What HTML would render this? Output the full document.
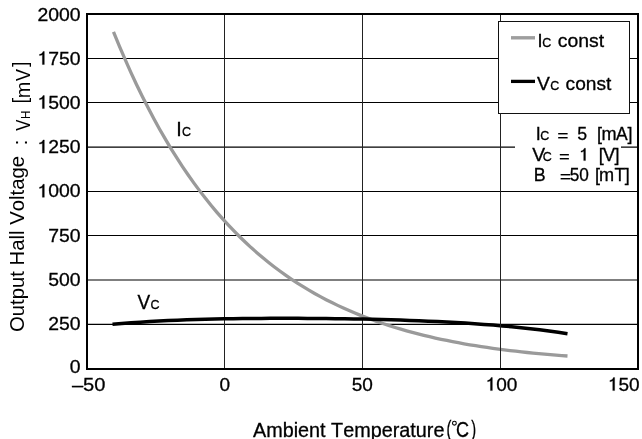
<!DOCTYPE html>
<html><head><meta charset="utf-8"><style>
html,body{margin:0;padding:0;background:#fff;width:642px;height:439px;overflow:hidden}
svg{display:block;will-change:transform}
text{font-family:"Liberation Sans",sans-serif;font-kerning:none;font-feature-settings:"kern" 0;fill:#000;stroke:#000;stroke-width:0.3px}
</style></head><body>
<svg width="642" height="439" viewBox="0 0 642 439">
<rect width="642" height="439" fill="#fff"/>
<g stroke="#000" stroke-width="1.05" fill="none"><line x1="88" y1="58.50" x2="637" y2="58.50"/><line x1="88" y1="102.50" x2="637" y2="102.50"/><line x1="88" y1="147.10" x2="637" y2="147.10"/><line x1="88" y1="191.45" x2="637" y2="191.45"/><line x1="88" y1="235.50" x2="637" y2="235.50"/><line x1="88" y1="279.90" x2="637" y2="279.90"/><line x1="88" y1="324.35" x2="637" y2="324.35"/></g><g stroke="#222" stroke-width="1" fill="none"><line x1="224.50" y1="15" x2="224.50" y2="368"/><line x1="362.50" y1="15" x2="362.50" y2="368"/><line x1="500.50" y1="15" x2="500.50" y2="368"/></g>
<polyline points="113.50,31.81 119.25,45.80 124.99,59.22 130.74,72.09 136.49,84.44 142.23,96.27 147.98,107.62 153.73,118.50 159.47,128.94 165.22,138.94 170.97,148.53 176.72,157.73 182.46,166.55 188.21,175.01 193.96,183.11 199.70,190.88 205.45,198.33 211.20,205.48 216.94,212.32 222.69,218.89 228.44,225.18 234.18,231.21 239.93,236.99 245.68,242.53 251.42,247.84 257.17,252.92 262.92,257.80 268.66,262.47 274.41,266.95 280.16,271.24 285.91,275.35 291.65,279.29 297.40,283.06 303.15,286.68 308.89,290.14 314.64,293.45 320.39,296.63 326.13,299.67 331.88,302.59 337.63,305.37 343.37,308.05 349.12,310.60 354.87,313.05 360.61,315.39 366.36,317.64 372.11,319.78 377.85,321.83 383.60,323.80 389.35,325.68 395.09,327.48 400.84,329.20 406.59,330.84 412.34,332.42 418.08,333.92 423.83,335.36 429.58,336.73 435.32,338.04 441.07,339.30 446.82,340.49 452.56,341.64 458.31,342.73 464.06,343.77 469.80,344.77 475.55,345.72 481.30,346.62 487.04,347.48 492.79,348.31 498.54,349.09 504.28,349.84 510.03,350.55 515.78,351.23 521.53,351.87 527.27,352.49 533.02,353.07 538.77,353.62 544.51,354.15 550.26,354.65 556.01,355.12 561.75,355.57 567.50,356.00" fill="none" stroke="#9a9a9a" stroke-width="3.3" stroke-linejoin="round"/>
<polyline points="112.50,324.26 121.79,323.49 131.07,322.79 140.36,322.15 149.64,321.58 158.93,321.07 168.21,320.62 177.50,320.22 186.79,319.86 196.07,319.55 205.36,319.28 214.64,319.05 223.93,318.85 233.21,318.69 242.50,318.56 251.79,318.46 261.07,318.38 270.36,318.34 279.64,318.31 288.93,318.31 298.21,318.33 307.50,318.38 316.79,318.44 326.07,318.53 335.36,318.64 344.64,318.77 353.93,318.93 363.21,319.10 372.50,319.31 381.79,319.54 391.07,319.79 400.36,320.08 409.64,320.40 418.93,320.75 428.21,321.13 437.50,321.56 446.79,322.02 456.07,322.54 465.36,323.10 474.64,323.71 483.93,324.38 493.21,325.10 502.50,325.90 511.79,326.76 521.07,327.69 530.36,328.71 539.64,329.80 548.93,330.99 558.21,332.27 567.50,333.66" fill="none" stroke="#000" stroke-width="3.5" stroke-linejoin="round"/>
<rect x="87" y="14" width="551" height="355" fill="none" stroke="#000" stroke-width="2"/>
<rect x="498.5" y="21.5" width="131" height="92" fill="#fff" stroke="#111" stroke-width="1"/>
<line x1="511" y1="37.8" x2="535" y2="37.8" stroke="#9e9e9e" stroke-width="3.4"/>
<line x1="511" y1="81.4" x2="535" y2="81.4" stroke="#000" stroke-width="3.3"/>
<rect x="515" y="120" width="106" height="65" fill="#fff"/>
<line x1="500.5" y1="113" x2="500.5" y2="368" stroke="#222" stroke-width="1"/>
<circle cx="454.4" cy="423.2" r="1.9" fill="none" stroke="#000" stroke-width="1.1"/>
<text transform="translate(37.44,20.60) scale(1.0200,1)" font-size="19.0">2000</text>
<path transform="translate(37.44,64.50) scale(19.380,-19.000)" d="M0.355 0L0.355 0.688L0.29 0.688C0.265 0.6 0.2 0.55 0.105 0.535L0.105 0.468C0.175 0.472 0.225 0.49 0.255 0.515L0.255 0Z" fill="#000" stroke="#000" stroke-width="0.0158"/>
<text transform="translate(48.22,64.50) scale(1.0200,1)" font-size="19.0">7</text>
<text transform="translate(59.00,64.50) scale(1.0200,1)" font-size="19.0">5</text>
<text transform="translate(69.78,64.50) scale(1.0200,1)" font-size="19.0">0</text>
<path transform="translate(37.44,108.60) scale(19.380,-19.000)" d="M0.355 0L0.355 0.688L0.29 0.688C0.265 0.6 0.2 0.55 0.105 0.535L0.105 0.468C0.175 0.472 0.225 0.49 0.255 0.515L0.255 0Z" fill="#000" stroke="#000" stroke-width="0.0158"/>
<text transform="translate(48.22,108.60) scale(1.0200,1)" font-size="19.0">5</text>
<text transform="translate(59.00,108.60) scale(1.0200,1)" font-size="19.0">0</text>
<text transform="translate(69.78,108.60) scale(1.0200,1)" font-size="19.0">0</text>
<path transform="translate(37.44,153.00) scale(19.380,-19.000)" d="M0.355 0L0.355 0.688L0.29 0.688C0.265 0.6 0.2 0.55 0.105 0.535L0.105 0.468C0.175 0.472 0.225 0.49 0.255 0.515L0.255 0Z" fill="#000" stroke="#000" stroke-width="0.0158"/>
<text transform="translate(48.22,153.00) scale(1.0200,1)" font-size="19.0">2</text>
<text transform="translate(59.00,153.00) scale(1.0200,1)" font-size="19.0">5</text>
<text transform="translate(69.78,153.00) scale(1.0200,1)" font-size="19.0">0</text>
<path transform="translate(37.44,197.30) scale(19.380,-19.000)" d="M0.355 0L0.355 0.688L0.29 0.688C0.265 0.6 0.2 0.55 0.105 0.535L0.105 0.468C0.175 0.472 0.225 0.49 0.255 0.515L0.255 0Z" fill="#000" stroke="#000" stroke-width="0.0158"/>
<text transform="translate(48.22,197.30) scale(1.0200,1)" font-size="19.0">0</text>
<text transform="translate(59.00,197.30) scale(1.0200,1)" font-size="19.0">0</text>
<text transform="translate(69.78,197.30) scale(1.0200,1)" font-size="19.0">0</text>
<text transform="translate(48.22,241.60) scale(1.0200,1)" font-size="19.0">750</text>
<text transform="translate(48.22,285.60) scale(1.0200,1)" font-size="19.0">500</text>
<text transform="translate(48.22,329.80) scale(1.0200,1)" font-size="19.0">250</text>
<text transform="translate(69.78,373.30) scale(1.0200,1)" font-size="19.0">0</text>
<text transform="translate(71.90,390.60) scale(1.0563,1)" font-size="19.0">–50</text>
<text transform="translate(219.56,390.60) scale(1.0000,1)" font-size="19.0">0</text>
<text transform="translate(351.64,390.60) scale(1.0000,1)" font-size="19.0">50</text>
<path transform="translate(485.61,390.60) scale(19.000,-19.000)" d="M0.355 0L0.355 0.688L0.29 0.688C0.265 0.6 0.2 0.55 0.105 0.535L0.105 0.468C0.175 0.472 0.225 0.49 0.255 0.515L0.255 0Z" fill="#000" stroke="#000" stroke-width="0.0158"/>
<text transform="translate(496.17,390.60) scale(1.0000,1)" font-size="19.0">0</text>
<text transform="translate(506.74,390.60) scale(1.0000,1)" font-size="19.0">0</text>
<path transform="translate(607.90,390.60) scale(19.000,-19.000)" d="M0.355 0L0.355 0.688L0.29 0.688C0.265 0.6 0.2 0.55 0.105 0.535L0.105 0.468C0.175 0.472 0.225 0.49 0.255 0.515L0.255 0Z" fill="#000" stroke="#000" stroke-width="0.0158"/>
<text transform="translate(618.47,390.60) scale(1.0000,1)" font-size="19.0">5</text>
<text transform="translate(629.04,390.60) scale(1.0000,1)" font-size="19.0">0</text>
<text transform="translate(537.62,46.70) scale(1.0000,1)" font-size="18.2">I</text>
<text transform="translate(542.37,46.70) scale(1.0000,1)" font-size="12.5">C</text>
<text transform="translate(557.78,46.70) scale(1.0659,1)" font-size="18.2">const</text>
<text transform="translate(536.92,89.90) scale(1.0602,1)" font-size="18.2">V</text>
<text transform="translate(550.27,89.90) scale(1.0000,1)" font-size="12.5">C</text>
<text transform="translate(565.59,89.90) scale(1.0518,1)" font-size="18.2">const</text>
<text transform="translate(535.84,139.70) scale(1.0000,1)" font-size="18.0">I</text>
<text transform="translate(540.17,139.70) scale(1.0000,1)" font-size="12.5">C</text>
<text transform="translate(557.36,141.10) scale(1.0749,0.8)" font-size="18.0" style="stroke-width:0.1px">=</text>
<text transform="translate(577.19,139.70) scale(0.9843,1)" font-size="18.0">5</text>
<text transform="translate(597.02,139.70) scale(1.0000,1)" font-size="18.0">[</text>
<text transform="translate(601.40,139.70) scale(1.0070,1)" font-size="18.0">m</text>
<text transform="translate(615.97,139.70) scale(0.9719,1)" font-size="18.0">A</text>
<text transform="translate(627.48,139.70) scale(1.0000,1)" font-size="18.0">]</text>
<text transform="translate(532.22,160.60) scale(1.0719,1)" font-size="18.0">V</text>
<text transform="translate(542.87,160.60) scale(1.0000,1)" font-size="12.5">C</text>
<text transform="translate(558.90,162.00) scale(1.0291,0.8)" font-size="18.0" style="stroke-width:0.1px">=</text>
<path transform="translate(579.11,160.60) scale(18.000,-18.000)" d="M0.355 0L0.355 0.688L0.29 0.688C0.265 0.6 0.2 0.55 0.105 0.535L0.105 0.468C0.175 0.472 0.225 0.49 0.255 0.515L0.255 0Z" fill="#000" stroke="#000" stroke-width="0.0167"/>
<text transform="translate(598.72,160.60) scale(1.0000,1)" font-size="18.0">[</text>
<text transform="translate(603.12,160.60) scale(1.0044,1)" font-size="18.0">V</text>
<text transform="translate(614.38,160.60) scale(1.0000,1)" font-size="18.0">]</text>
<text transform="translate(533.84,180.60) scale(0.9916,1)" font-size="18.0">B</text>
<text transform="translate(559.66,182.00) scale(1.0749,0.8)" font-size="18.0" style="stroke-width:0.1px">=</text>
<text transform="translate(569.71,180.60) scale(0.9571,1)" font-size="18.0">50</text>
<text transform="translate(595.02,180.60) scale(1.0000,1)" font-size="18.0">[</text>
<text transform="translate(599.10,180.60) scale(1.0070,1)" font-size="18.0">m</text>
<text transform="translate(614.41,180.60) scale(0.9727,1)" font-size="18.0">T</text>
<text transform="translate(624.68,180.60) scale(1.0000,1)" font-size="18.0">]</text>
<text transform="translate(176.37,135.70) scale(1.0000,1)" font-size="19.8">I</text>
<text transform="translate(182.07,135.70) scale(1.0000,1)" font-size="12.5">C</text>
<text transform="translate(137.42,308.50) scale(0.9591,1)" font-size="19.8">V</text>
<text transform="translate(150.47,308.50) scale(1.0000,1)" font-size="12.5">C</text>
<text transform="translate(252.96,436.60) scale(0.9804,1)" font-size="20.2">Ambient Temperature</text>
<text transform="translate(446.39,436.20) scale(0.6686,1)" font-size="22">(</text>
<text transform="translate(456.09,436.60) scale(0.8373,1)" font-size="21.5">C</text>
<text transform="translate(471.21,436.20) scale(0.6686,1)" font-size="22">)</text>
<text transform="translate(24.00,332.06) rotate(-90) scale(1.0007,1)" font-size="20.3" style="stroke-width:0">Output Hall Voltage</text>
<text transform="translate(26.50,145.28) rotate(-90) scale(1.0000,1)" font-size="19.5" style="stroke-width:0">:</text>
<text transform="translate(30.00,130.87) rotate(-90) scale(0.8440,1)" font-size="19.8" style="stroke-width:0">V</text>
<text transform="translate(30.20,118.95) rotate(-90) scale(0.8815,1)" font-size="13.2" style="stroke-width:0">H</text>
<text transform="translate(27.20,103.43) rotate(-90) scale(1.0000,1)" font-size="20" style="stroke-width:0">[</text>
<text transform="translate(29.80,98.33) rotate(-90) scale(1.0091,1)" font-size="19.8" style="stroke-width:0">m</text>
<text transform="translate(29.80,81.08) rotate(-90) scale(0.9054,1)" font-size="19.8" style="stroke-width:0">V</text>
<text transform="translate(27.20,66.96) rotate(-90) scale(1.0000,1)" font-size="20" style="stroke-width:0">]</text>
</svg>
</body></html>
